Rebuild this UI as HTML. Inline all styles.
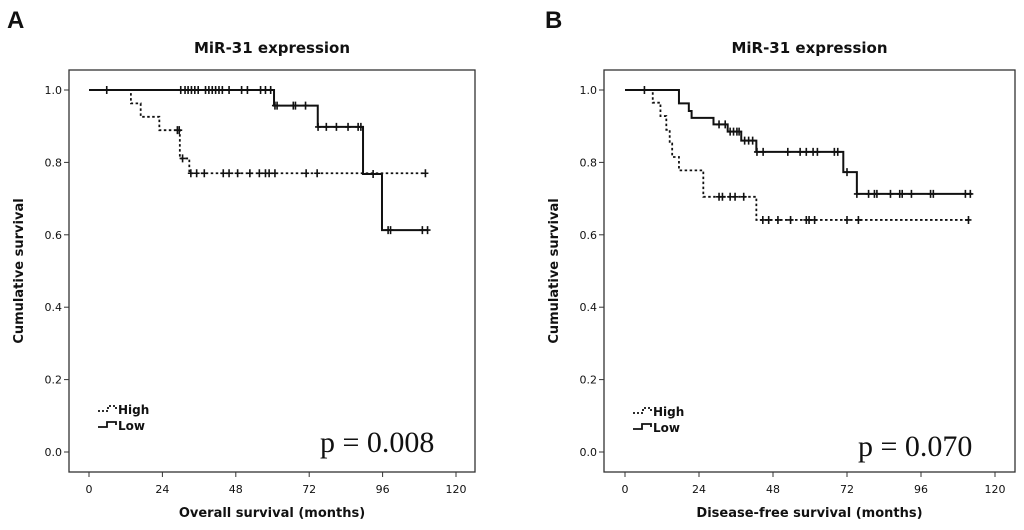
<!DOCTYPE html>
<html><head><meta charset="utf-8"><style>
html,body{margin:0;padding:0;background:#fff;width:1024px;height:530px;overflow:hidden}
svg text{font-family:"DejaVu Sans","Liberation Sans",sans-serif;fill:#111}
svg text.serif{font-family:"Liberation Serif",serif}
svg text.lib{font-family:"Liberation Sans",sans-serif}
</style></head><body>
<svg id="chart" width="1024" height="530"></svg>
<script>
// ---- Panel A data (Overall survival) ----
const xTicks = [0,24,48,72,96,120];
const yTicks = [0.0,0.2,0.4,0.6,0.8,1.0];
const aLowTimes = [60.5,74.8,89.6,95.8];
const aLowSurv = [0.957,0.898,0.768,0.613];
const aLowEnd = 110.7;
const aLowCensT = [30.0,31.4,32.4,33.5,34.6,35.7,38.1,39.2,40.3,41.4,42.5,43.6,45.8,49.9,51.8,56.1,57.7,59.4,60.8,61.5,66.8,67.5,70.8,74.9,77.6,80.9,84.7,88.0,88.9,92.9,97.8,98.6,109,110.7];
const aHighTimes = [13.7,16.9,23.0,29.7,32.8];
const aHighSurv = [0.963,0.926,0.889,0.811,0.770];
const aHighEnd = 110;
const aHighCensT = [5.8,28.9,29.5,30.6,33.3,35.2,37.7,43.9,45.8,48.6,52.6,55.7,57.7,58.9,60.8,71.0,74.6,110];
// ---- Panel B data (Disease-free survival) ----
const bLowTimes = [17.5,20.7,21.6,28.7,33.3,37.7,42.6,70.8,75.2];
const bLowSurv = [0.963,0.942,0.923,0.905,0.885,0.860,0.829,0.773,0.713];
const bLowEnd = 112.5;
const bLowCensT = [30.5,32.5,34.1,35.2,36.3,37.0,38.8,40.1,41.4,42.8,44.8,52.8,56.8,58.8,61.0,62.4,67.9,69.0,72.0,75.2,79.0,80.9,81.7,86.1,89.1,89.9,92.9,99.1,100,110.4,112];
const bHighTimes = [9.0,11.5,13.4,14.5,15.3,17.5,25.4,42.6];
const bHighSurv = [0.965,0.928,0.890,0.852,0.815,0.778,0.705,0.641];
const bHighEnd = 111.4;
const bHighCensT = [6.3,30.5,31.6,34.1,35.7,38.5,44.7,46.6,49.6,53.7,58.8,59.7,61.5,72.0,75.7,111.4];

const NS='http://www.w3.org/2000/svg';
const svg=document.getElementById('chart');
function mk(tag,attrs,parent){const e=document.createElementNS(NS,tag);for(const k in attrs)e.setAttribute(k,attrs[k]);(parent||svg).appendChild(e);return e;}

function survAt(times,surv,t){let s=1;for(let i=0;i<times.length;i++){if(times[i]<=t+1e-9)s=surv[i];}return s;}

function panel(p){
  const g=mk('g',{});
  
  
  const L=p.left,R=p.right,T=70,B=472;
  const xs=t=>p.x0+(p.x120-p.x0)*t/120;
  const ys=v=>452-(452-90)*v;
  let t=mk('text',{x:p.lx,y:28,'font-size':24,'font-weight':'bold','class':'lib'},g);t.textContent=p.letter;
  
  t=mk('text',{x:(L+R)/2,y:53,'font-size':15,'font-weight':'bold','text-anchor':'middle'},g);t.textContent='MiR-31 expression';
  
  const fr=mk('rect',{x:L,y:T,width:R-L,height:B-T,fill:'none',stroke:'#333','stroke-width':1.3},g);
  
  yTicks.forEach(v=>{
    mk('line',{x1:L-5,x2:L,y1:ys(v),y2:ys(v),stroke:'#333'},g);
    const tt=mk('text',{x:L-7,y:ys(v)+4,'font-size':11,'text-anchor':'end'},g);tt.textContent=v.toFixed(1);
    
  });
  xTicks.forEach(v=>{
    mk('line',{x1:xs(v),x2:xs(v),y1:B,y2:B+5,stroke:'#333'},g);
    const tt=mk('text',{x:xs(v),y:B+21,'font-size':11,'text-anchor':'middle'},g);tt.textContent=v;
    
  });
  t=mk('text',{x:(L+R)/2,y:517,'font-size':13,'font-weight':'bold','text-anchor':'middle'},g);t.textContent=p.xtitle;
  
  const yc=271;
  t=mk('text',{x:0,y:0,'font-size':13,'font-weight':'bold','text-anchor':'middle',transform:`translate(${L-46},${yc}) rotate(-90)`},g);t.textContent='Cumulative survival';
  
  function curve(times,surv,end,cens,dash,name){
    let d=`M${xs(0)},${ys(1)}`;
    times.forEach((tm,i)=>{d+=` H${xs(tm)} V${ys(surv[i])}`;});
    d+=` H${xs(end)}`;
    const a={d:d,fill:'none',stroke:'#111','stroke-width':dash?1.8:2};
    if(dash)a['stroke-dasharray']='2.5,2.5';
    const pth=mk('path',a,g);
    
    cens.forEach(c=>{
      const cx=xs(c),cy=ys(survAt(times,surv,c));
      const m=mk('path',{d:`M${cx},${cy-4} V${cy+4} M${cx-3},${cy} H${cx+3}`,stroke:'#111','stroke-width':1.6},g);
      
    });
  }
  curve(p.hT,p.hS,p.hE,p.hC,true,'high');
  curve(p.lT,p.lS,p.lE,p.lC,false,'low');
  const lx=L+29;
  const lg=mk('g',{},g);
  
  mk('path',{d:`M${lx},${p.ly} H${lx+10} V${p.ly-5} H${lx+18} V${p.ly-2}`,fill:'none',stroke:'#111','stroke-width':1.8,'stroke-dasharray':'2,2'},lg);
  t=mk('text',{x:lx+20,y:p.ly+3,'font-size':12,'font-weight':'bold'},lg);t.textContent='High';
  
  mk('path',{d:`M${lx},${p.ly+16} H${lx+9} V${p.ly+11} H${lx+18} V${p.ly+14}`,fill:'none',stroke:'#111','stroke-width':1.8},lg);
  t=mk('text',{x:lx+20,y:p.ly+19,'font-size':12,'font-weight':'bold'},lg);t.textContent='Low';
  
  t=mk('text',{x:p.px,y:p.py,'font-size':30,'class':'serif'},g);t.textContent=p.pv;
  
}
panel({name:'panel-a',letter:'A',lx:7,left:69,right:475,x0:89,x120:456,xtitle:'Overall survival (months)',
  hT:aHighTimes,hS:aHighSurv,hE:aHighEnd,hC:aHighCensT,lT:aLowTimes,lS:aLowSurv,lE:aLowEnd,lC:aLowCensT,ly:411,px:320,py:452,pv:'p = 0.008'});
panel({name:'panel-b',letter:'B',lx:545,left:604,right:1015,x0:625,x120:995,xtitle:'Disease-free survival (months)',
  hT:bHighTimes,hS:bHighSurv,hE:bHighEnd,hC:bHighCensT,lT:bLowTimes,lS:bLowSurv,lE:bLowEnd,lC:bLowCensT,ly:413,px:858,py:456,pv:'p = 0.070'});
</script>
</body></html>
